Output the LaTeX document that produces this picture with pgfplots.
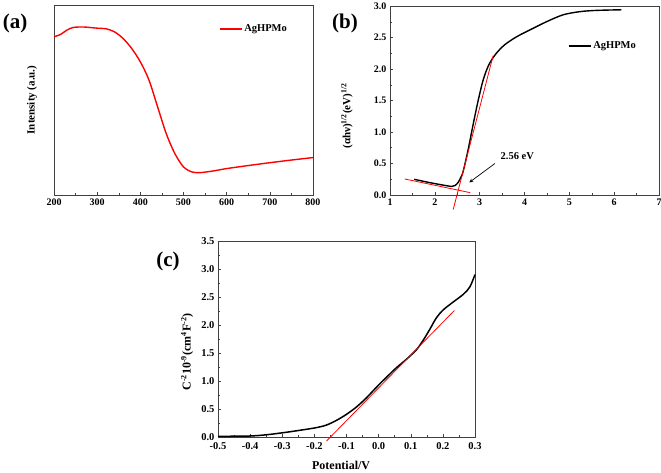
\documentclass[border=0pt]{standalone}
\usepackage{pgfplots}
\pgfplotsset{compat=1.18}
\usepackage{fontspec}
\setmainfont{Liberation Serif}
\begin{document}
\begin{tikzpicture}
\useasboundingbox (0pt,0pt) rectangle (661pt,472pt);
\pgfplotsset{
  every axis/.append style={
    scale only axis, anchor=south west,
    font=\bfseries\fontsize{10}{12}\selectfont,
    /pgf/number format/assume math mode=true,
    axis line style={black!75, line width=0.6pt},
    tick style={black!75, line width=0.5pt},
    major tick length=3pt, minor tick length=2pt,
    xtick pos=left, ytick pos=left,
    tick align=inside,
    legend style={draw=none, fill=none, font=\bfseries\fontsize{10.5}{12}\selectfont},
    legend cell align=left,
    legend image code/.code={\draw[#1, line width=1.2pt] (0pt,0pt) -- (22pt,0pt);},
    clip=false,
    label style={font=\bfseries\fontsize{11}{13}\selectfont},
  },
}
% (a)
\begin{axis}[at={(54pt,277pt)}, width=259pt, height=190pt,
  xmin=200, xmax=800, ymin=0, ymax=1,
  xtick={200,300,...,800}, minor x tick num=1,
  xticklabels={200,300,400,500,600,700,800},
  ytick=\empty,
  ylabel={Intensity (a.u.)},
  ylabel style={at={(axis description cs:-0.085,0.5)}, anchor=center},
  legend style={at={(axis description cs:0.625,0.874)}, anchor=west},
]
\addplot[red, line width=1.4pt, smooth] coordinates {
(200,0.833) (215,0.845) (230,0.868) (245,0.882) (270,0.884) (300,0.878)
(320,0.875) (340,0.859) (360,0.824) (380,0.771) (400,0.701) (420,0.605)
(440,0.464) (460,0.323) (480,0.218) (500,0.148) (520,0.121) (540,0.118)
(570,0.127) (600,0.139) (650,0.155) (700,0.170) (750,0.184) (800,0.197)};
\addlegendentry{AgHPMo}
\end{axis}
% (b)
\begin{axis}[at={(390pt,277pt)}, width=269pt, height=189pt,
  xmin=1, xmax=7, ymin=0, ymax=3,
  xtick={1,...,7}, minor x tick num=1,
  xticklabels={1,2,3,4,5,6,7},
  ytick={0,0.5,...,3}, minor y tick num=1,
  yticklabels={0.0,0.5,1.0,1.5,2.0,2.5,3.0},
  ylabel={(αhν)\textsuperscript{1/2}(eV)\textsuperscript{1/2}},
  ylabel style={at={(axis description cs:-0.16,0.418)}, anchor=center},
  legend style={at={(axis description cs:0.65,0.788)}, anchor=west},
]
\addplot[black, line width=1.4pt, smooth] coordinates {
(1.54,0.249) (1.89,0.196) (2.20,0.155) (2.30,0.143) (2.37,0.135) (2.45,0.15)
(2.52,0.20) (2.58,0.28) (2.63,0.37) (2.74,0.71) (2.86,1.14) (2.97,1.51)
(3.08,1.83) (3.20,2.06) (3.35,2.23) (3.55,2.38) (3.82,2.51) (4.12,2.62)
(4.49,2.75) (4.86,2.86) (5.23,2.91) (5.60,2.93) (6.16,2.94)};
\addlegendentry{AgHPMo}
\addplot[red, line width=0.8pt, forget plot] coordinates {(2.41,-0.23) (3.30,2.21)};
\addplot[red, line width=0.8pt, forget plot] coordinates {(1.33,0.254) (2.79,0.037)};
\draw[-stealth, black, line width=0.7pt] (axis cs:3.34,0.50) -- (axis cs:2.77,0.20);
\node[font=\bfseries\fontsize{10.5}{12}\selectfont] at (axis cs:3.84,0.61) {2.56 eV};
\end{axis}
% (c)
\begin{axis}[at={(218pt,35pt)}, width=257pt, height=196pt,
  font=\bfseries\fontsize{10.5}{13}\selectfont,
  label style={font=\bfseries\fontsize{12}{14}\selectfont},
  xticklabel style={yshift=-1.5pt},
  xmin=-0.5, xmax=0.3, ymin=0, ymax=3.5,
  xtick={-0.5,-0.4,...,0.31}, minor x tick num=1,
  xticklabels={-0.5,-0.4,-0.3,-0.2,-0.1,0.0,0.1,0.2,0.3},
  ytick={0,0.5,...,3.5}, minor y tick num=1,
  yticklabels={0.0,0.5,1.0,1.5,2.0,2.5,3.0,3.5},
  ylabel={C\textsuperscript{-2}10\textsuperscript{-9}(cm\textsuperscript{4}F\textsuperscript{-2})},
  ylabel style={at={(axis description cs:-0.12,0.434)}, anchor=center},
  xlabel={Potential/V},
  xlabel style={at={(axis description cs:0.479,-0.145)}, anchor=center},
]
\addplot[black, line width=1.5pt, smooth] coordinates {
(-0.5,0.012) (-0.401,0.018) (-0.349,0.04) (-0.297,0.077) (-0.245,0.12)
(-0.194,0.167) (-0.162,0.214) (-0.131,0.298) (-0.10,0.405) (-0.069,0.536)
(-0.038,0.70) (-0.0065,0.89) (0.025,1.07) (0.056,1.24) (0.087,1.39)
(0.118,1.56) (0.139,1.73) (0.160,1.93) (0.180,2.13) (0.201,2.27)
(0.232,2.41) (0.264,2.55) (0.284,2.68) (0.30,2.90)};
\addplot[red, line width=0.8pt] coordinates {(-0.162,-0.071) (0.236,2.26)};
\end{axis}
\node[font=\bfseries\fontsize{21}{24}\selectfont] at (15pt,449pt) {(a)};
\node[font=\bfseries\fontsize{21}{24}\selectfont] at (345pt,449pt) {(b)};
\node[font=\bfseries\fontsize{21}{24}\selectfont] at (168pt,211pt) {(c)};
\end{tikzpicture}
\end{document}
